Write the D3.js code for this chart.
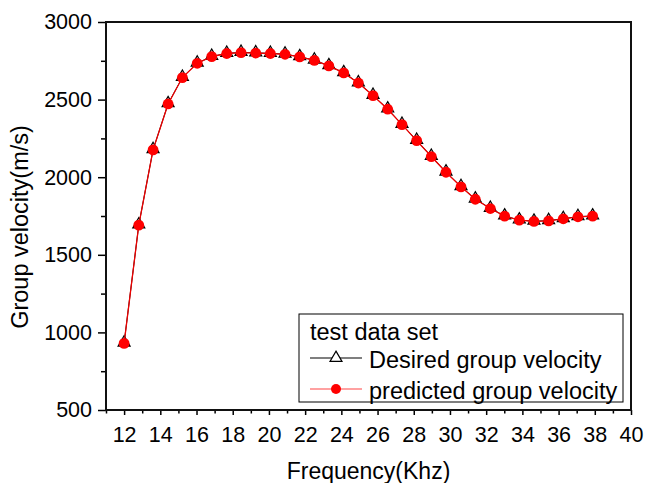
<!DOCTYPE html>
<html>
<head>
<meta charset="utf-8">
<script src="https://cdn.jsdelivr.net/npm/d3@7"></script>
<style>
  body { margin: 0; background: #fff; }
  text { font-family: "Liberation Sans", Arial, sans-serif; fill: #000; }
</style>
</head>
<body>
<div id="chart"></div>
<script>
const canvas_w  =   645;
const canvas_h  =   483;

// frequency (kHz) of each sample
const frequency = [ 12.00, 12.81, 13.60, 14.43, 15.22, 16.04, 16.84, 17.67, 18.46, 19.27, 20.08,
                    20.89, 21.70, 22.51, 23.31, 24.13, 24.94, 25.75, 26.56, 27.35, 28.16, 28.97,
                    29.78, 30.61, 31.40, 32.23, 33.02, 33.83, 34.64, 35.45, 36.26, 37.07, 37.88 ];

const desired   = [  931, 1692, 2177, 2473, 2643, 2735, 2778, 2798, 2804, 2801, 2798,
                    2793, 2776, 2754, 2718, 2673, 2608, 2527, 2439, 2340, 2237, 2134,
                    2033, 1939, 1859, 1799, 1750, 1724, 1716, 1720, 1733, 1746, 1750 ];

const predicted = [  929, 1691, 2176, 2472, 2642, 2734, 2777, 2797, 2803, 2800, 2797,
                    2792, 2775, 2753, 2717, 2672, 2607, 2526, 2438, 2339, 2236, 2133,
                    2032, 1938, 1858, 1798, 1749, 1723, 1715, 1719, 1732, 1745, 1749 ];

const x_ticks   = [ 12, 14, 16, 18, 20, 22, 24, 26, 28, 30, 32, 34, 36, 38, 40 ];
const y_ticks   = [ 500, 1000, 1500, 2000, 2500, 3000 ];

const legend_title  = 'test data set';
const legend_names  = [ 'Desired group velocity', 'predicted group velocity' ];

let margin      =   { left: 106, top: 22, right: 14, bottom: 73 };
let plot_w      =   canvas_w - margin.left - margin.right;
let plot_h      =   canvas_h - margin.top - margin.bottom;

let x           =   d3.scaleLinear()
                          .domain( [ 11, 40 ] )
                          .range( [ 0, plot_w ] );

let y           =   d3.scaleLinear()
                          .domain( [ 500, 3000 ] )
                          .range( [ plot_h, 0 ] );

let svg         =   d3.select( '#chart' )
                      .append( 'svg' )
                      .attr( 'width', canvas_w )
                      .attr( 'height', canvas_h );

let g           =   svg.append( 'g' )
                       .attr( 'transform', `translate(${margin.left},${margin.top})` );

// minor ticks first, majors drawn on top
let x_minor = d3.range( 11, 40, 2 );
g.append( 'g' )
 .attr( 'transform', `translate(0,${plot_h})` )
 .call( d3.axisBottom( x ).tickValues( x_minor ).tickSize( 3.5 ).tickFormat( '' ) )
 .call( a => a.select( '.domain' ).remove() );

let y_minor = d3.range( 750, 3000, 500 );
g.append( 'g' )
 .call( d3.axisLeft( y ).tickValues( y_minor ).tickSize( 5 ).tickFormat( '' ) )
 .call( a => a.select( '.domain' ).remove() );

let x_axis = g.append( 'g' )
              .attr( 'transform', `translate(0,${plot_h})` )
              .call( d3.axisBottom( x ).tickValues( x_ticks ).tickSize( 5 ).tickPadding( 12 ) );
x_axis.select( '.domain' ).remove();
x_axis.selectAll( 'text' ).style( 'font-size', '21.5px' );

let y_axis = g.append( 'g' )
              .call( d3.axisLeft( y ).tickValues( y_ticks ).tickSize( 8 ).tickPadding( 6 )
                       .tickFormat( d3.format( 'd' ) ) );
y_axis.select( '.domain' ).remove();
y_axis.selectAll( 'text' ).style( 'font-size', '21.5px' );

svg.selectAll( '.tick line' ).attr( 'stroke', '#000' ).attr( 'stroke-width', 1.5 );

// frame
g.append( 'rect' )
 .attr( 'width', plot_w )
 .attr( 'height', plot_h )
 .attr( 'fill', 'none' )
 .attr( 'stroke', '#111' )
 .attr( 'stroke-width', 2 );

let tri = d3.symbol().type( d3.symbolTriangle ).size( 62 );

let line_d = d3.line().x( ( d, i ) => x( frequency[ i ] ) ).y( d => y( d ) );
let line_p = d3.line().x( ( d, i ) => x( frequency[ i ] ) ).y( d => y( d ) );

g.append( 'path' )
 .attr( 'd', line_d( desired ) )
 .attr( 'fill', 'none' )
 .attr( 'stroke', '#000' )
 .attr( 'stroke-width', 1 );

g.selectAll( '.tri' )
 .data( desired )
 .enter()
 .append( 'path' )
 .attr( 'class', 'tri' )
 .attr( 'd', tri )
 .attr( 'transform', ( d, i ) => `translate(${x( frequency[ i ] )},${y( d ) - 0.5})` )
 .attr( 'fill', '#fff' )
 .attr( 'stroke', '#000' )
 .attr( 'stroke-width', 1.2 );

g.append( 'path' )
 .attr( 'd', line_p( predicted ) )
 .attr( 'fill', 'none' )
 .attr( 'stroke', '#e00' )
 .attr( 'stroke-width', 1.3 );

g.selectAll( '.dot' )
 .data( predicted )
 .enter()
 .append( 'circle' )
 .attr( 'class', 'dot' )
 .attr( 'cx', ( d, i ) => x( frequency[ i ] ) )
 .attr( 'cy', d => y( d ) )
 .attr( 'r', 5.4 )
 .attr( 'fill', '#f00' );

// axis titles
svg.append( 'text' )
   .attr( 'x', margin.left + plot_w / 2 )
   .attr( 'y', 479 )
   .attr( 'text-anchor', 'middle' )
   .style( 'font-size', '23px' )
   .text( 'Frequency(Khz)' );

svg.append( 'text' )
   .attr( 'transform', 'translate(28,227) rotate(-90)' )
   .attr( 'text-anchor', 'middle' )
   .style( 'font-size', '23.5px' )
   .text( 'Group velocity(m/s)' );

// legend
let legend = svg.append( 'g' ).attr( 'transform', 'translate(299,314)' );

legend.append( 'rect' )
      .attr( 'width', 324 )
      .attr( 'height', 88 )
      .attr( 'fill', '#fff' )
      .attr( 'stroke', '#000' )
      .attr( 'stroke-width', 1 );

legend.append( 'text' )
      .attr( 'x', 11 )
      .attr( 'y', 26 )
      .style( 'font-size', '23.5px' )
      .text( legend_title );

let rows = legend.selectAll( '.row' )
                 .data( legend_names )
                 .enter()
                 .append( 'g' )
                 .attr( 'class', 'row' )
                 .attr( 'transform', ( d, i ) => `translate(0,${44 + i * 31})` );

rows.append( 'line' )
    .attr( 'x1', 11 )
    .attr( 'x2', 63 )
    .attr( 'stroke', ( d, i ) => i === 0 ? '#000' : '#f44' )
    .attr( 'stroke-width', 1.2 );

rows.filter( ( d, i ) => i === 0 )
    .append( 'path' )
    .attr( 'd', tri )
    .attr( 'transform', 'translate(37,0)' )
    .attr( 'fill', '#fff' )
    .attr( 'stroke', '#000' )
    .attr( 'stroke-width', 1.2 );

rows.filter( ( d, i ) => i === 1 )
    .append( 'circle' )
    .attr( 'cx', 37 )
    .attr( 'r', 5 )
    .attr( 'fill', '#f00' );

rows.append( 'text' )
    .attr( 'x', 70 )
    .attr( 'y', 10 )
    .style( 'font-size', '23.5px' )
    .text( d => d );
</script>
</body>
</html>
